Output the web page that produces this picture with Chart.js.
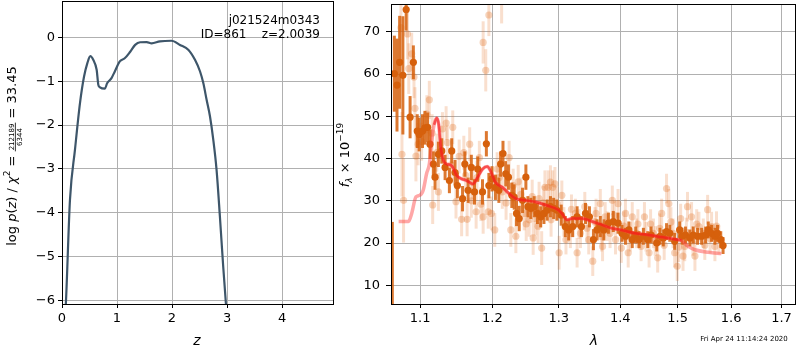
<!DOCTYPE html>
<html>
<head>
<meta charset="utf-8">
<script src="https://cdn.jsdelivr.net/npm/chart.js@4.4.1/dist/chart.umd.min.js"></script>
<style>
  body{margin:0;background:#fff;}
  #wrap{position:relative;width:800px;height:350px;overflow:hidden;}
  canvas{position:absolute;top:0;}
  #pz{left:0;}
  #spec{left:330px;}
</style>
</head>
<body>
<div id="wrap">
  <canvas id="pz" width="340" height="350"></canvas>
  <canvas id="spec" width="470" height="350"></canvas>
</div>
<script>
// ---- left panel: log p(z) ----
const zGrid = [0.04, 0.07, 0.145, 0.236, 0.327, 0.40, 0.461, 0.515, 0.57, 0.63, 0.66, 0.69, 0.78, 0.82, 0.90, 0.96,
  1.05, 1.14, 1.24, 1.33, 1.42, 1.54, 1.63, 1.78, 1.99, 2.145, 2.30, 2.42, 2.51, 2.57, 2.63, 2.69, 2.75, 2.81, 2.87, 2.93, 2.98, 3.0];
const logPz = [-6.6, -6.07, -3.70, -2.56, -1.50, -0.90, -0.59, -0.43, -0.52, -0.74, -1.08, -1.14, -1.17, -1.05, -0.93, -0.78,
  -0.55, -0.48, -0.33, -0.175, -0.115, -0.11, -0.14, -0.094, -0.08, -0.175, -0.29, -0.52, -0.78, -1.05, -1.43, -1.80, -2.33, -3.02, -4.07, -5.21, -6.07, -6.5];
const zTicks = [0, 1, 2, 3, 4];
const logPTicks = [-6, -5, -4, -3, -2, -1, 0];

// ---- right panel: spectrum ----
const lamTicks = [1.1, 1.2, 1.3, 1.4, 1.5, 1.6, 1.7];
const fluxTicks = [10, 20, 30, 40, 50, 60, 70];

// well measured points (solid)
const lamHi = [1.0638, 1.0664, 1.0698, 1.0732, 1.0774, 1.0817, 1.0868, 1.0911, 1.0962,
  1.0987, 1.1032, 1.1064, 1.1100, 1.1132, 1.1177, 1.1200, 1.1245, 1.1291, 1.1336, 1.1395, 1.1427, 1.1473, 1.1505, 1.1577, 1.1609, 1.1655, 1.1700, 1.1745, 1.1791, 1.1859, 1.1914, 1.1950, 1.1995,
  1.2045, 1.2095, 1.2120, 1.2155, 1.2195, 1.2235, 1.2285, 1.2320, 1.2355, 1.2395, 1.2445, 1.2495, 1.2525, 1.2570, 1.2620, 1.2670, 1.2720, 1.2770, 1.2820, 1.2870, 1.2920, 1.2970,
  1.3038, 1.3102, 1.3156, 1.3220, 1.3290, 1.3360, 1.3425, 1.3489, 1.3554, 1.3613, 1.3667, 1.3726, 1.3801, 1.3882, 1.3962,
  1.4029, 1.4087, 1.4145, 1.4203, 1.4262, 1.4320, 1.4395, 1.4471, 1.4529, 1.4628, 1.4686, 1.4744, 1.4802, 1.4860, 1.4948,
  1.5037, 1.5081, 1.5143, 1.5224, 1.5286, 1.5366, 1.5441, 1.5516, 1.5565, 1.5627, 1.5690, 1.5739, 1.5801, 1.5845];
const fluxHi = [2, 60.1, 57.4, 62.8, 59.7, 75.3, 49.8, 62.8, 46.5,
  45.7, 46.5, 47.3, 47.4, 43.4, 38.7, 35.6, 41.0, 41.8, 37.9, 34.8, 41.8, 36.7, 33.6, 30.5, 38.7, 32.5, 37.9, 32.1, 37.5, 32.1, 43.5, 33.6, 35.2,
  33.2, 32.5, 38.7, 41.2, 36.4, 35.6, 31.3, 30.9, 27.0, 25.8, 30.1, 35.6, 28.6, 28.2, 28.6, 27.0, 26.2, 27.0, 27.8, 28.6, 28.2, 27.8,
  26.6, 23.9, 23.1, 23.9, 26.2, 23.9, 27.0, 26.2, 20.8, 23.1, 23.9, 23.1, 24.7, 25.1, 24.7,
  22.3, 21.6, 23.1, 20.8, 21.9, 20.8, 21.6, 20.8, 21.9, 20.0, 21.6, 21.2, 22.7, 22.3, 20.4,
  23.1, 21.6, 21.9, 21.2, 21.9, 21.6, 21.6, 21.9, 23.1, 22.3, 21.6, 22.3, 20.8, 19.4];
const errHi = [23, 9, 11, 11, 14, 5, 5, 4, 4,
  4, 4, 4, 3.5, 3.5, 3, 3, 3, 3, 3, 3, 3, 3, 3, 3, 3, 3, 3, 3, 3, 3, 3, 3, 3,
  3, 3, 3, 3, 3, 3, 3, 3, 3, 3, 3, 3, 2.5, 2.5, 2.5, 2.5, 2.5, 2.5, 2.5, 2.5, 2.5, 2.5,
  2.5, 2.5, 2.5, 2.5, 2.5, 2.5, 2.5, 2.5, 2.5, 2.5, 2.5, 2.5, 2.5, 2.5, 2.5,
  2, 2, 2, 2, 2, 2, 2, 2, 2, 2, 2, 2, 2, 2, 2,
  2, 2, 2, 2, 2, 2, 2, 2, 2, 2, 2, 2, 2, 2];

// noisier points (faint)
const lamLo = [1.0749, 1.0762, 1.0783, 1.0834, 1.0851, 1.0889, 1.0919, 1.0932, 1.0945, 1.0974,
  1.1123, 1.1168, 1.1223, 1.1245, 1.1350, 1.1368, 1.1441, 1.1486, 1.1564, 1.1595, 1.1641, 1.1677, 1.1723, 1.1768, 1.1814, 1.1836, 1.1868, 1.1868, 1.1905, 1.1941, 1.1950, 1.1986, 1.2135,
  1.1020, 1.1090, 1.1160, 1.1300, 1.1420, 1.1530, 1.1620, 1.1700, 1.1780,
  1.2035, 1.2070, 1.2145, 1.2245, 1.2270, 1.2305, 1.2345, 1.2420, 1.2470, 1.2545, 1.2605, 1.2645, 1.2695, 1.2735, 1.2785, 1.2835, 1.2870, 1.2905, 1.2940, 1.2975, 1.3005,
  1.2100, 1.2200, 1.2380, 1.2500, 1.2590, 1.2680, 1.2760, 1.2880,
  1.3048, 1.3113, 1.3183, 1.3263, 1.3290, 1.3344, 1.3414, 1.3478, 1.3543, 1.3597, 1.3667, 1.3704, 1.3747, 1.3828, 1.3866, 1.3920, 1.3962,
  1.3080, 1.3200, 1.3320, 1.3450, 1.3580, 1.3690, 1.3780, 1.3900,
  1.4017, 1.4087, 1.4134, 1.4203, 1.4279, 1.4355, 1.4413, 1.4494, 1.4570, 1.4645, 1.4715, 1.4802, 1.4843, 1.4919, 1.4948, 1.4994,
  1.4060, 1.4170, 1.4300, 1.4440, 1.4520, 1.4600, 1.4680, 1.4760, 1.4880,
  1.5056, 1.5099, 1.5130, 1.5180, 1.5255, 1.5317, 1.5391, 1.5472, 1.5553, 1.5627, 1.5690, 1.5764,
  1.5020, 1.5160, 1.5280, 1.5350, 1.5500, 1.5600, 1.5720];
const fluxLo = [71.0, 41.0, 30.1, 69.5, 61.3, 64.8, 59.3, 51.9, 40.6, 43.4,
  53.9, 29.0, 41.4, 32.1, 48.4, 43.8, 47.4, 29.8, 25.6, 41.4, 25.6, 43.4, 34.4, 27.4, 40.2, 29.2, 67.5, 26.2, 60.9, 27.4, 74.0, 27.0, 77.5,
  44.0, 50.5, 46.0, 47.0, 38.5, 40.5, 36.0, 30.0, 35.5,
  23.1, 37.5, 32.1, 40.2, 23.1, 33.6, 21.6, 31.5, 27.0, 25.5, 21.2, 25.8, 30.5, 18.8, 33.2, 33.2, 34.4, 33.2, 34.0, 29.3, 17.7,
  35.5, 29.5, 34.5, 24.5, 31.0, 24.0, 29.5, 25.5,
  31.3, 20.8, 22.3, 27.0, 17.7, 22.3, 28.6, 20.8, 15.7, 27.0, 29.3, 19.2, 26.2, 22.3, 30.1, 20.8, 29.3,
  25.0, 28.0, 24.5, 23.5, 25.0, 21.5, 24.0, 26.5,
  18.8, 27.0, 17.7, 26.2, 22.3, 19.2, 26.2, 17.7, 22.3, 16.5, 27.0, 32.9, 29.3, 22.3, 17.7, 14.5,
  24.0, 21.5, 24.5, 21.5, 24.5, 20.5, 23.5, 19.5, 25.0,
  25.8, 16.9, 19.2, 28.6, 26.2, 16.9, 23.9, 22.3, 27.9, 23.9, 19.2, 20.8,
  19.0, 22.5, 20.5, 24.5, 19.5, 21.0, 24.0];
const errLo = [8, 10, 10, 6, 6, 5, 5, 5, 6, 5,
  4.5, 4.5, 4.5, 4.5, 4, 4, 4, 4, 4, 4, 4, 4, 4, 4, 4, 4, 5, 4, 5, 4, 5, 4, 5.5,
  4.5, 4.5, 4.5, 4, 4, 4, 4, 4, 4,
  4, 4, 4, 4, 4, 4, 4, 4, 4, 4, 4, 4, 4, 4, 4, 4, 4, 4, 4, 4, 4,
  4, 4, 4, 4, 4, 4, 4, 4,
  3.5, 3.5, 3.5, 3.5, 3.5, 3.5, 3.5, 3.5, 3.5, 3.5, 3.5, 3.5, 3.5, 3.5, 3.5, 3.5, 3.5,
  3.5, 3.5, 3.5, 3.5, 3.5, 3.5, 3.5, 3.5,
  3.5, 3.5, 3.5, 3.5, 3.5, 3.5, 3.5, 3.5, 3.5, 3.5, 3.5, 3.5, 3.5, 3.5, 3.5, 3.5,
  3.5, 3.5, 3.5, 3.5, 3.5, 3.5, 3.5, 3.5, 3.5,
  3.5, 3.5, 3.5, 3.5, 3.5, 3.5, 3.5, 3.5, 3.5, 3.5, 3.5, 3.5,
  3.5, 3.5, 3.5, 3.5, 3.5, 3.5, 3.5];

// template model
const lamModel = [1.0719, 1.0847, 1.0889, 1.0945, 1.0996, 1.1041, 1.1086, 1.1123, 1.1155, 1.1186, 1.1223, 1.1250, 1.1277, 1.1314, 1.1359,
  1.1427, 1.1495, 1.1564, 1.1632, 1.1723, 1.1791, 1.1859, 1.1927, 1.1973, 1.2045, 1.2145, 1.2245, 1.2345, 1.2495, 1.2645, 1.2795,
  1.2995, 1.3048, 1.3129, 1.3210, 1.3371, 1.3532, 1.3694, 1.3855, 1.4017, 1.4250, 1.4483, 1.4715, 1.4948, 1.5068, 1.5193, 1.5317, 1.5565, 1.5814];
const fluxModel = [25.1, 25.1, 27.0, 30.9, 31.3, 32.5, 36.4, 38.7, 44.1, 48.0, 49.6, 48.0, 42.6, 39.5, 38.7,
  38.3, 36.0, 35.2, 34.8, 34.0, 35.6, 37.5, 38.1, 37.1, 34.4, 33.2, 31.7, 30.5, 30.1, 29.7, 29.0,
  27.8, 27.0, 25.5, 25.8, 25.8, 25.1, 24.3, 23.5, 23.1, 22.3, 21.9, 21.4, 20.9, 20.6, 19.2, 18.4, 17.8, 17.5];
const fitRange = [1.118, 1.507];

const FONT = '"DejaVu Sans", "Liberation Sans", sans-serif';
const GRID = '#b0b0b0';
const ORANGE = 'rgb(214,96,12)';

function fmtMinus(v){ return (v < 0 ? '\u2212' : '') + Math.abs(v); }

function drawFrame(ctx, a){
  ctx.save();
  ctx.strokeStyle = '#000';
  ctx.lineWidth = 1;
  ctx.strokeRect(Math.round(a.left) + 0.5, Math.round(a.top) + 0.5, Math.round(a.right - a.left) - 1, Math.round(a.bottom - a.top));
  ctx.restore();
}

// draws a sequence of text runs left to right; each run {t, font, dy} or a fraction {frac, num, den}
function drawRuns(ctx, runs, x, y){
  runs.forEach(r=>{
    ctx.font = r.font;
    if(r.frac){
      const w = Math.max(ctx.measureText(r.num).width, ctx.measureText(r.den).width) + 2;
      ctx.textAlign = 'center';
      ctx.fillText(r.num, x + w/2, y - 1.5);
      ctx.fillText(r.den, x + w/2, y + 6.5);
      ctx.fillRect(x, y - 0.6, w, 0.8);
      ctx.textAlign = 'left';
      x += w;
    } else {
      ctx.fillText(r.t, x, y + (r.dy || 0));
      x += ctx.measureText(r.t).width;
    }
  });
}
function runsWidth(ctx, runs){
  let w = 0;
  runs.forEach(r=>{
    ctx.font = r.font;
    if(r.frac) w += Math.max(ctx.measureText(r.num).width, ctx.measureText(r.den).width) + 2;
    else w += ctx.measureText(r.t).width;
  });
  return w;
}

const errorBars = {
  id: 'errorBars',
  beforeDatasetDraw(chart, args){
    const ds = chart.data.datasets[args.index];
    if(!ds.errs) return;
    const {ctx, chartArea: a, scales: {x, y}} = chart;
    ctx.save();
    ctx.beginPath(); ctx.rect(a.left, a.top, a.right - a.left, a.bottom - a.top); ctx.clip();
    ctx.strokeStyle = ds.errColor;
    ctx.lineWidth = ds.errWidth;
    ds.data.forEach((p, i)=>{
      const px = x.getPixelForValue(p.x);
      ctx.beginPath();
      ctx.moveTo(px, y.getPixelForValue(p.y - ds.errs[i]));
      ctx.lineTo(px, y.getPixelForValue(p.y + ds.errs[i]));
      ctx.stroke();
    });
    ctx.restore();
  }
};

const pzDecor = {
  id: 'pzDecor',
  afterDraw(chart){
    const {ctx, chartArea: a} = chart;
    drawFrame(ctx, a);
    ctx.save();
    ctx.fillStyle = '#000';
    ctx.textBaseline = 'alphabetic';
    ctx.font = '12px ' + FONT;
    ctx.textAlign = 'right';
    ctx.fillText('j021524m0343', 320, 24);
    ctx.fillText('ID=861    z=2.0039', 320, 38);
    ctx.textAlign = 'center';
    ctx.font = 'italic 14px ' + FONT;
    ctx.fillText('z', 197, 345);

    // rotated y label with fraction
    const n = '13px ' + FONT, it = 'italic 13px ' + FONT;
    const runs = [
      {t:'log ', font:n}, {t:'p', font:it}, {t:'(', font:n}, {t:'z', font:it}, {t:') / ', font:n},
      {t:'\u03c7', font:it}, {t:'2', font:'9px ' + FONT, dy:-6}, {t:' = ', font:n},
      {frac:true, num:'212189', den:'6344', font:'7px ' + FONT},
      {t:' = 33.45', font:n}
    ];
    ctx.translate(15.5, 156);
    ctx.rotate(-Math.PI/2);
    ctx.textAlign = 'left';
    const w = runsWidth(ctx, runs);
    drawRuns(ctx, runs, -w/2, 0);
    ctx.restore();
  }
};

const specDecor = {
  id: 'specDecor',
  afterDraw(chart){
    const {ctx, chartArea: a} = chart;
    drawFrame(ctx, a);
    ctx.save();
    ctx.fillStyle = '#000';
    ctx.textBaseline = 'alphabetic';
    ctx.textAlign = 'center';
    ctx.font = 'italic 14px ' + FONT;
    ctx.fillText('\u03bb', 264, 345);
    ctx.font = '7px ' + FONT;
    ctx.fillText('Fri Apr 24 11:14:24 2020', 414, 341);

    const n = '13px ' + FONT;
    const runs = [
      {t:'f', font:'italic 13px ' + FONT}, {t:'\u03bb', font:'italic 9px ' + FONT, dy:3},
      {t:' \u00d7 10', font:n}, {t:'\u221219', font:'9px ' + FONT, dy:-6}
    ];
    ctx.translate(19, 155);
    ctx.rotate(-Math.PI/2);
    ctx.textAlign = 'left';
    const w = runsWidth(ctx, runs);
    drawRuns(ctx, runs, -w/2, 0);
    ctx.restore();
  }
};

function axisCommon(ticksArr, fmt){
  return {
    afterBuildTicks: s => { s.ticks = ticksArr.map(v => ({value: v})); },
    grid: {color: GRID, lineWidth: 1, tickColor: '#000', tickLength: 4, drawTicks: true},
    border: {display: false},
    ticks: {color: '#000', font: {family: FONT, size: 13}, callback: fmt, autoSkip: false, maxRotation: 0}
  };
}
// fixed axis sizes, no extra label padding so the plot box lands where the reference has it
function fixX(h){ return s => { s.height = h; s.paddingLeft = 0; s.paddingRight = 0; }; }
function fixY(w){ return s => { s.width = w; s.paddingTop = 0; s.paddingBottom = 0; }; }

Chart.defaults.animation = false;

// left chart
const pzX = axisCommon(zTicks, v => fmtMinus(v));
Object.assign(pzX, {type: 'linear', min: 0, max: 4.945, afterFit: fixX(46)});
pzX.ticks.padding = 3;
const pzY = axisCommon(logPTicks, v => fmtMinus(v));
Object.assign(pzY, {type: 'linear', min: -6.075, max: 0.825, afterFit: fixY(62)});
pzY.ticks.padding = 3;

new Chart(document.getElementById('pz'), {
  type: 'line',
  data: {
    datasets: [{
      data: zGrid.map((z, i) => ({x: z, y: logPz[i]})),
      borderColor: '#3e566a', borderWidth: 2.2, pointRadius: 0,
      cubicInterpolationMode: 'monotone'
    }]
  },
  options: {
    responsive: false,
    layout: {padding: {top: 1, right: 6, left: 0, bottom: 0}},
    plugins: {legend: {display: false}, tooltip: {enabled: false}},
    scales: {x: pzX, y: pzY}
  },
  plugins: [pzDecor]
});

// right chart
const spX = axisCommon(lamTicks, v => v.toFixed(1));
Object.assign(spX, {type: 'logarithmic', min: 1.0621, max: 1.730, afterFit: fixX(46)});
spX.ticks.padding = 3;
const spY = axisCommon(fluxTicks, v => String(v));
Object.assign(spY, {type: 'linear', min: 5.56, max: 76.6, afterFit: fixY(61)});
spY.grid.tickLength = 5;
spY.ticks.padding = 6;

const fitLam = lamModel.filter(l => l >= fitRange[0] && l <= fitRange[1]);
const fitFlux = fluxModel.filter((f, i) => lamModel[i] >= fitRange[0] && lamModel[i] <= fitRange[1]);

new Chart(document.getElementById('spec'), {
  type: 'scatter',
  data: {
    datasets: [
      {
        data: lamLo.map((l, i) => ({x: l, y: fluxLo[i]})),
        errs: errLo, errColor: 'rgba(226,110,30,0.22)', errWidth: 3,
        pointRadius: 3.6, backgroundColor: 'rgba(226,110,30,0.3)', borderWidth: 0, order: 4
      },
      {
        data: lamHi.map((l, i) => ({x: l, y: fluxHi[i]})),
        errs: errHi, errColor: 'rgba(214,96,12,0.85)', errWidth: 3,
        pointRadius: 3.6, backgroundColor: ORANGE, borderWidth: 0, order: 3
      },
      {
        type: 'line',
        data: lamModel.map((l, i) => ({x: l, y: fluxModel[i]})),
        borderColor: 'rgba(255,60,60,0.45)', borderWidth: 3.5, pointRadius: 0,
        cubicInterpolationMode: 'monotone', order: 2
      },
      {
        type: 'line',
        data: fitLam.map((l, i) => ({x: l, y: fitFlux[i]})),
        borderColor: 'rgba(245,20,20,0.6)', borderWidth: 2.5, pointRadius: 0,
        cubicInterpolationMode: 'monotone', order: 1
      }
    ]
  },
  options: {
    responsive: false,
    layout: {padding: {top: 1, right: 1, left: 0, bottom: 0}},
    plugins: {legend: {display: false}, tooltip: {enabled: false}},
    scales: {x: spX, y: spY}
  },
  plugins: [errorBars, specDecor]
});
</script>
</body>
</html>
